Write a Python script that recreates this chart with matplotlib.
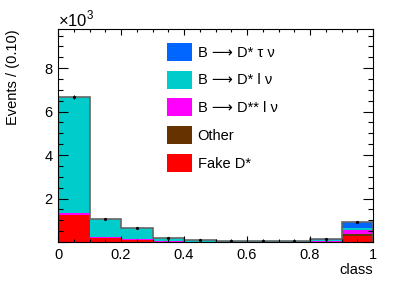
import numpy as np
import matplotlib.pyplot as plt
from matplotlib.patches import Patch
from matplotlib.ticker import MultipleLocator, FuncFormatter

plt.rcParams['font.family'] = ['Liberation Sans', 'DejaVu Sans']
plt.rcParams['mathtext.fontset'] = 'custom'
plt.rcParams['mathtext.rm'] = 'Liberation Sans'

# class bins 0..1, width 0.1
edges = np.linspace(0, 1, 11)
# event counts per component, bottom to top of the stack
fake_dstar = [1240, 200, 110, 20, 10, 10, 5, 5, 10, 290]
other = [0, 0, 0, 0, 0, 0, 5, 5, 10, 90]
dss_l_nu = [80, 20, 10, 5, 10, 10, 10, 10, 20, 150]
ds_l_nu = [5360, 820, 530, 145, 55, 30, 15, 15, 70, 100]
ds_tau_nu = [0, 0, 0, 0, 5, 0, 0, 0, 10, 290]
data = [6680, 1040, 650, 170, 80, 50, 35, 35, 120, 940]

components = [
    ("Fake D*", fake_dstar, "#ff0000"),
    ("Other", other, "#663300"),
    ("B \u27f6 D** l \u03bd", dss_l_nu, "#ff00ff"),
    ("B \u27f6 D* l \u03bd", ds_l_nu, "#00cccc"),
    ("B \u27f6 D* \u03c4 \u03bd", ds_tau_nu, "#0066ff"),
]

fig = plt.figure(figsize=(4.15, 2.82), dpi=100)
ax = fig.add_axes([58 / 415, 40 / 282, 315 / 415, 213 / 282])

centers = 0.5 * (edges[:-1] + edges[1:])
bottom = np.zeros(len(centers))
for name, vals, col in components:
    vals = np.array(vals, dtype=float)
    ax.bar(centers, vals, width=0.1, bottom=bottom, color=col,
           edgecolor='none', linewidth=0)
    bottom += vals

ax.stairs(bottom, edges, color='#666666', linewidth=1.2)
ax.errorbar(centers, data, yerr=np.sqrt(data), fmt='o', color='black',
            markersize=1.3, elinewidth=0.7, capsize=0)

ax.set_xlim(0, 1)
ax.set_ylim(0, 9800)
ax.xaxis.set_major_locator(MultipleLocator(0.2))
ax.xaxis.set_minor_locator(MultipleLocator(0.05))
ax.yaxis.set_major_locator(MultipleLocator(2000))
ax.yaxis.set_minor_locator(MultipleLocator(500))
ax.xaxis.set_major_formatter(FuncFormatter(lambda v, p: f"{v:g}"))
ax.yaxis.set_major_formatter(
    FuncFormatter(lambda v, p: "" if v == 0 else f"{v / 1000:g}"))
ax.tick_params(axis='both', which='both', direction='in', top=True,
               right=True, labelsize=10.5, width=0.8)
ax.tick_params(axis='x', which='major', length=4.3, pad=4)
ax.tick_params(axis='x', which='minor', length=2.2)
ax.tick_params(axis='y', which='major', length=7.2, pad=4)
ax.tick_params(axis='y', which='minor', length=3.6)
for s in ax.spines.values():
    s.set_linewidth(0.8)

ax.set_xlabel("class", fontsize=10.5, ha='right', x=1.0)
ax.set_ylabel("Events / (0.10)", fontsize=10.5, ha='right', y=1.0)
ax.yaxis.set_label_coords(-0.12, 1.0)
ax.xaxis.set_label_coords(1.0, -0.1)
ax.text(0, 1.0, r"$\times10^{3}$", transform=ax.transAxes, fontsize=12,
        ha='left', va='bottom')

handles = [Patch(facecolor=col, edgecolor='none', label=name)
           for name, vals, col in components[::-1]]
ax.legend(handles=handles, loc='upper left',
          bbox_to_anchor=(167 / 415, 1 - 43 / 282),
          bbox_transform=fig.transFigure, frameon=False, fontsize=10.5,
          handlelength=1.7, handleheight=1.5, handletextpad=0.4,
          labelspacing=0.68, borderpad=0, borderaxespad=0)

fig.savefig("out.png", dpi=100)
